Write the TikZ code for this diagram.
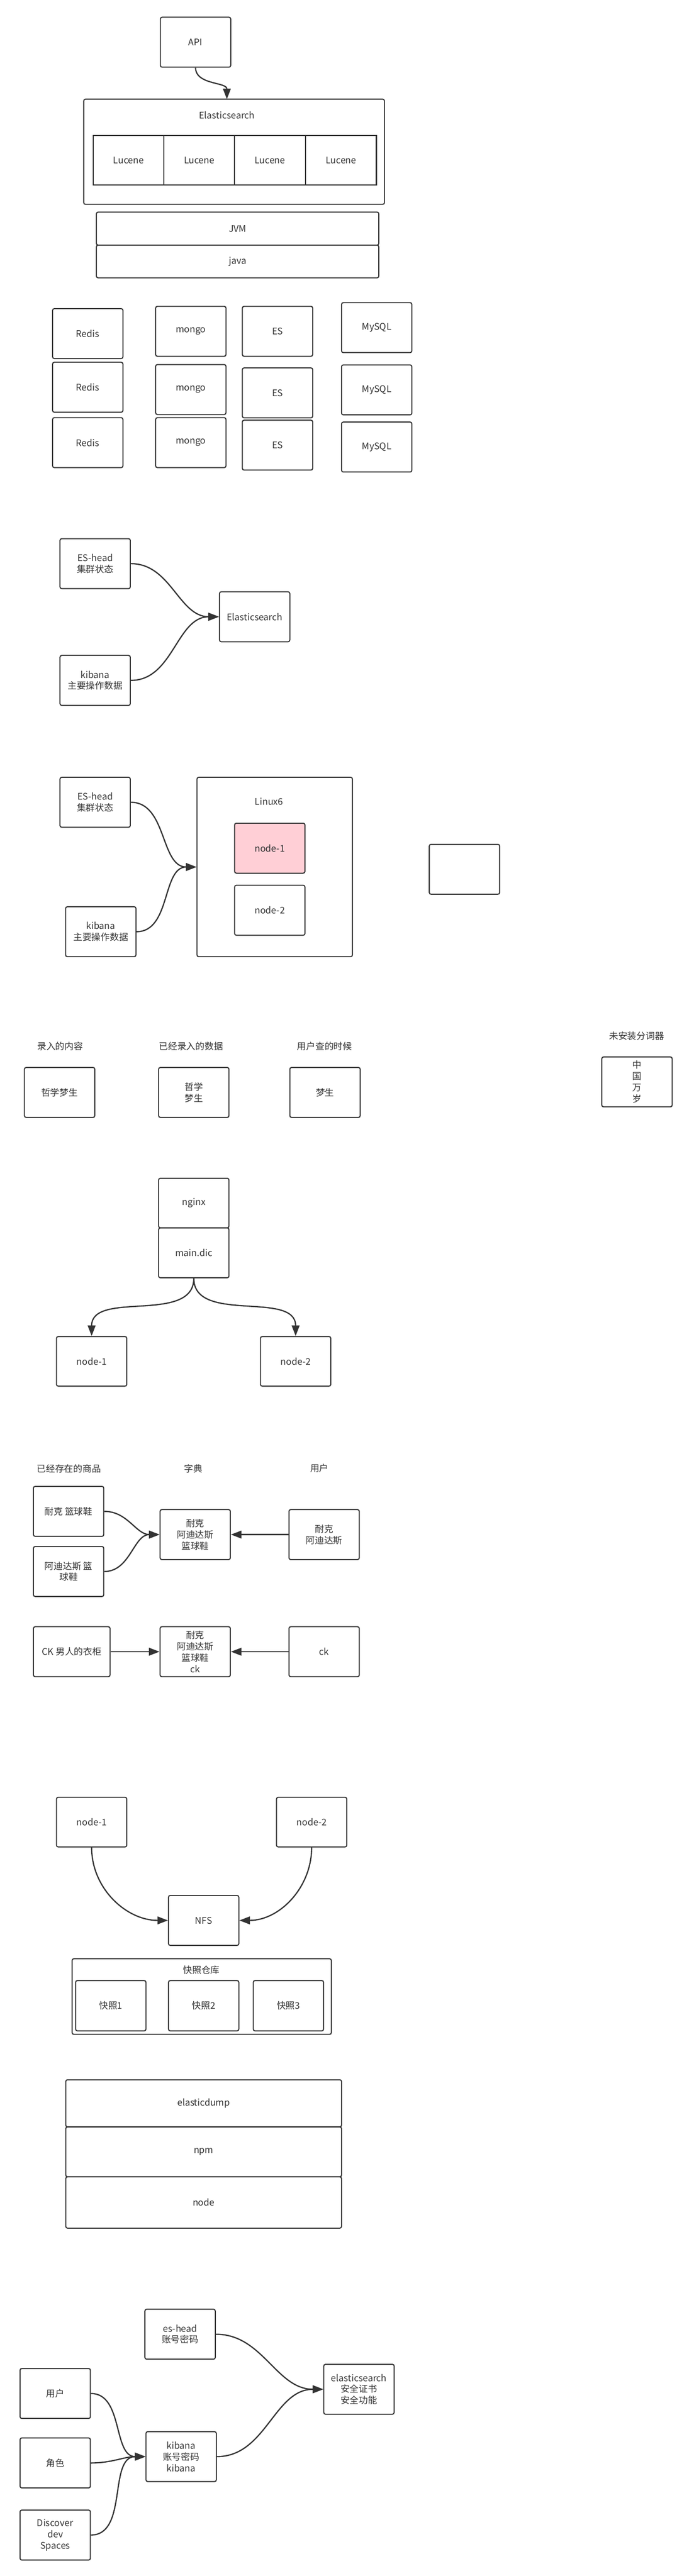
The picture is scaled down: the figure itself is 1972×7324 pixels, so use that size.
\documentclass[tikz,border=0pt]{standalone}
\usepackage{fontspec}
\setmainfont{Noto Sans CJK SC}
\usetikzlibrary{arrows.meta}
\definecolor{lc}{HTML}{333333}
\definecolor{pk}{HTML}{FFCFD6}
\newcommand\fs{\fontsize{26}{32}\selectfont}
\begin{document}
\begin{tikzpicture}[x=1pt,y=-1pt,
 box/.style={draw=lc, line width=3pt, rounded corners=5pt, minimum width=200pt, minimum height=142pt, align=center, inner sep=0pt, font=\fs, text=lc},
 sqbox/.style={box, rounded corners=0pt, minimum width=201pt, minimum height=141pt},
 lbl/.style={font=\fs, text=lc, inner sep=0pt, align=center},
 conn/.style={draw=lc, line width=3.5pt, -{Triangle[length=30pt,width=22pt]}},
 curv/.style={conn, out=0, in=180}]
\useasboundingbox[fill=white] (0,0) rectangle (1972,7324);

% ---------- section 1
\node[box] (api) at (556,120) {API};
\node[box, minimum width=855pt, minimum height=299pt] (esout) at (665.5,431.5) {};
\node[lbl] (eslbl) at (645,328) {Elasticsearch};
\coordinate (estop) at (645,282);
\node[sqbox] (luc1) at (365.5,455.5) {Lucene};
\node[sqbox] (luc2) at (566.5,455.5) {Lucene};
\node[sqbox] (luc3) at (767.5,455.5) {Lucene};
\node[sqbox] (luc4) at (969.5,455.5) {Lucene};
\node[box, minimum width=803pt, minimum height=94pt] (jvm) at (675.5,650) {JVM};
\node[box, minimum width=803pt, minimum height=93pt] (java) at (675.5,743.5) {java};
\draw[conn] (api.south) to[out=-90,in=90] (estop);

% ---------- section 2
\node[box] (r1) at (249.5,948.5) {Redis};
\node[box] (r2) at (249.5,1101) {Redis};
\node[box] (r3) at (249.5,1258.5) {Redis};
\node[box] (m1) at (542.5,942) {mongo};
\node[box] (m2) at (542.5,1107.5) {mongo};
\node[box] (m3) at (542.5,1258.5) {mongo};
\node[box] (e1) at (789,942) {ES};
\node[box] (e2) at (789,1117) {ES};
\node[box] (e3) at (789,1265.5) {ES};
\node[box] (q1) at (1071,931.5) {MySQL};
\node[box] (q2) at (1071,1108.5) {MySQL};
\node[box] (q3) at (1071,1271) {MySQL};

% ---------- section 3
\node[box] (eshA) at (270.5,1602.5) {ES-head\\集群状态};
\node[box] (kibA) at (270.5,1934.5) {kibana\\主要操作数据};
\node[box] (esA) at (724,1753.5) {Elasticsearch};
\draw[curv] (eshA.east) to (esA.west);
\draw[curv] (kibA.east) to (esA.west);

% ---------- section 4
\node[box] (eshB) at (270.5,2281) {ES-head\\集群状态};
\node[box] (kibB) at (286.5,2649) {kibana\\主要操作数据};
\node[box, minimum width=442pt, minimum height=510pt] (linux) at (781,2465) {};
\node[lbl] (linuxlbl) at (765,2279) {Linux6};
\node[box, fill=pk] (ln1) at (767,2411.5) {node-1};
\node[box] (ln2) at (767,2588) {node-2};
\node[box] (empty) at (1320.5,2471.5) {};
\draw[curv] (eshB.east) to (linux.west);
\draw[curv] (kibB.east) to (linux.west);

% ---------- section 5
\node[lbl] (t1) at (171,2975) {录入的内容};
\node[lbl] (t2) at (543,2975) {已经录入的数据};
\node[lbl] (t3) at (923,2975) {用户查的时候};
\node[lbl] (t4) at (1810,2945) {未安装分词器};
\node[box] (c1) at (169.5,3106) {哲学梦生};
\node[box] (c2) at (551,3106) {哲学\\梦生};
\node[box] (c3) at (924,3106) {梦生};
\node[box] (c4) at (1811,3076) {中\\国\\万\\岁};

% ---------- section 6
\node[box, minimum height=141pt] (nginx) at (551,3420.5) {nginx};
\node[box] (maindic) at (551,3562) {main.dic};
\node[box, minimum height=141pt] (nd1) at (260.5,3870.5) {node-1};
\node[box, minimum height=141pt] (nd2) at (840.5,3870.5) {node-2};
\draw[conn] (maindic.south) to[out=-90,in=90] (nd1.north);
\draw[conn] (maindic.south) to[out=-90,in=90] (nd2.north);

% ---------- section 7
\node[lbl] (h1) at (196,4175) {已经存在的商品};
\node[lbl] (h2) at (550,4175) {字典};
\node[lbl] (h3) at (908,4175) {用户};
\node[box] (g1) at (195,4297) {耐克 篮球鞋};
\node[box] (g2) at (195,4468) {阿迪达斯 篮\\球鞋};
\node[box] (d1) at (555,4363) {耐克\\阿迪达斯\\篮球鞋};
\node[box] (u1) at (921.5,4363) {耐克\\阿迪达斯};
\draw[curv] (g1.east) to (d1.west);
\draw[curv] (g2.east) to (d1.west);
\draw[conn] (u1.west) -- (d1.east);
\node[box, minimum width=218pt] (g3) at (204,4696) {CK 男人的衣柜};
\node[box] (d2) at (555,4696) {耐克\\阿迪达斯\\篮球鞋\\ck};
\node[box] (u2) at (921.5,4696) {ck};
\draw[conn] (g3.east) -- (d2.west);
\draw[conn] (u2.west) -- (d2.east);

% ---------- section 8
\node[box, minimum height=141pt] (fn1) at (260.5,5180.5) {node-1};
\node[box, minimum height=141pt] (fn2) at (886,5180.5) {node-2};
\node[box] (nfs) at (579,5460) {NFS};
\draw[conn] (fn1.south) to[out=-90,in=180] (nfs.west);
\draw[conn] (fn2.south) to[out=-90,in=0] (nfs.east);
\node[box, minimum width=737pt, minimum height=215pt] (snap) at (573.5,5676.5) {};
\node[lbl] (snaplbl) at (573,5601) {快照仓库};
\node[box, minimum height=143pt] (s1) at (315,5702.5) {快照1};
\node[box, minimum height=143pt] (s2) at (579,5702.5) {快照2};
\node[box, minimum height=143pt] (s3) at (820,5702.5) {快照3};

% ---------- section 9
\node[box, minimum width=784pt, minimum height=134pt] (edump) at (579,5980) {elasticdump};
\node[box, minimum width=784pt, minimum height=142pt] (npm) at (579,6118) {npm};
\node[box, minimum width=784pt, minimum height=146pt] (nodejs) at (579,6262) {node};

% ---------- section 10
\node[box] (eh) at (512,6636.5) {es-head\\账号密码};
\node[box] (usr) at (157,6805) {用户};
\node[box] (role) at (157,7002.5) {角色};
\node[box] (disc) at (157,7207.5) {Discover\\dev\\Spaces};
\node[box] (kib) at (515,6984.5) {kibana\\账号密码\\kibana};
\node[box] (els) at (1020.5,6793) {elasticsearch\\安全证书\\安全功能};
\draw[curv] (eh.east) to (els.west);
\draw[curv] (kib.east) to (els.west);
\draw[curv] (usr.east) to (kib.west);
\draw[curv] (role.east) to (kib.west);
\draw[curv] (disc.east) to (kib.west);
\end{tikzpicture}
\end{document}
